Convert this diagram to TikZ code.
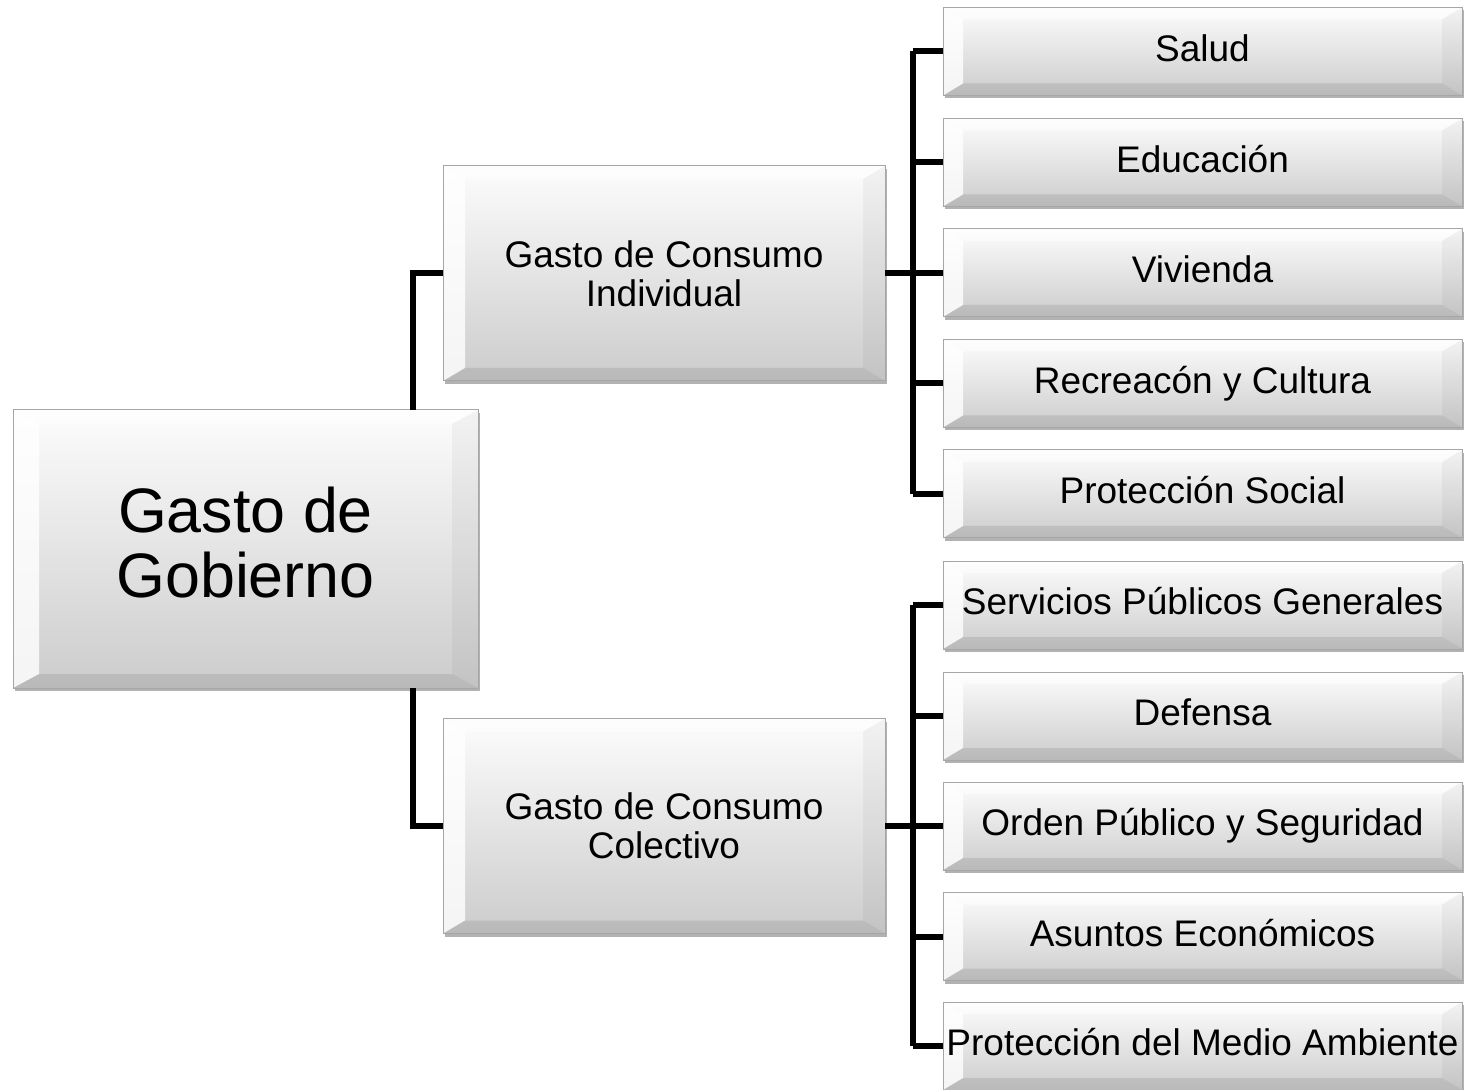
\documentclass[tikz,border=0pt]{standalone}
\usepackage{fontspec}
\setmainfont{Liberation Sans}
\usetikzlibrary{calc,shadows}
\def\bevelfaces#1#2{%
  \path (path picture bounding box.north west) coordinate (bnw)
        (path picture bounding box.south east) coordinate (bse)
        (bnw -| bse) coordinate (bne) (bnw |- bse) coordinate (bsw);
  \fill[white,opacity=0.55] (bnw) -- (bne) -- ([shift={(-#1,-#2)}]bne) -- ([shift={(#1,-#2)}]bnw) -- cycle;
  \fill[white,opacity=0.8] (bnw) -- (bsw) -- ([shift={(#1,#2)}]bsw) -- ([shift={(#1,-#2)}]bnw) -- cycle;
  \fill[black,opacity=0.04] (bne) -- (bse) -- ([shift={(-#1,#2)}]bse) -- ([shift={(-#1,-#2)}]bne) -- cycle;
  \fill[black,opacity=0.09] (bsw) -- (bse) -- ([shift={(-#1,#2)}]bse) -- ([shift={(#1,#2)}]bsw) -- cycle;}
\tikzset{
  bevelbox/.style 2 args={draw=black!35, line width=0.5pt, inner sep=0pt, outer sep=0pt,
    top color=black!1, bottom color=black!20, align=center,
    drop shadow={shadow xshift=1pt, shadow yshift=-1.5pt, opacity=0.3, fill=black},
    path picture={\bevelfaces{#1}{#2}}},
  leafbox/.style={bevelbox={10pt}{6pt}, minimum width=259.5pt, minimum height=44pt,
    font=\fontsize{18.5}{19.5}\selectfont},
  midbox/.style={bevelbox={11pt}{6.5pt}, minimum width=221pt, minimum height=107.5pt,
    font=\fontsize{18.5}{19.5}\selectfont},
  link/.style={line width=3pt, black}
}

\begin{document}
\begin{tikzpicture}[x=0.5pt, y=0.5pt]
		%%%%% START %%%%%
		\useasboundingbox (0, 0) rectangle (1468, 1089);
		
		\node[bevelbox={13pt}{7pt}, minimum width=232.5pt, minimum height=139pt,
		  font=\fontsize{31.4}{32.5}\selectfont] (gobierno) at (245.5, 540) {Gasto de\\Gobierno\vphantom{g}};
		
		\node[midbox] (individual) at (664, 815.5) {Gasto de Consumo\\Individual};
		\node[midbox] (colectivo) at (664, 263) {Gasto de Consumo\\Colectivo};
		
		\node[leafbox] (salud) at (1202.5, 1037.5) {Salud\vphantom{g}};
		\node[leafbox] (educacion) at (1202.5, 926.5) {Educación\vphantom{g}};
		\node[leafbox] (vivienda) at (1202.5, 816) {Vivienda\vphantom{g}};
		\node[leafbox] (recreacion) at (1202.5, 705.5) {Recreacón y Cultura};
		\node[leafbox] (proteccion) at (1202.5, 595) {Protección Social\vphantom{g}};
		
		\node[leafbox] (servicios) at (1202.5, 484) {Servicios Públicos Generales\vphantom{g}};
		\node[leafbox] (defensa) at (1202.5, 373) {Defensa\vphantom{g}};
		\node[leafbox] (orden) at (1202.5, 263) {Orden Público y Seguridad};
		\node[leafbox] (asuntos) at (1202.5, 152.5) {Asuntos Económicos\vphantom{g}};
		\node[leafbox] (ambiente) at (1202.5, 43) {Protección del Medio Ambiente\vphantom{g}};
		
		\coordinate (gbus) at (413, 0);
		\coordinate (bus) at (913, 0);
		
		\draw[link] (individual.west) -| (gbus |- gobierno.north);
		\draw[link] (colectivo.west) -| (gbus |- gobierno.south);
		
		\draw[link] (individual.east) -- (bus |- individual.east);
		\draw[link] (bus |- salud.west) -- (bus |- proteccion.west);
		\draw[link] (bus |- salud.west) -- (salud.west);
		\draw[link] (bus |- educacion.west) -- (educacion.west);
		\draw[link] (bus |- vivienda.west) -- (vivienda.west);
		\draw[link] (bus |- recreacion.west) -- (recreacion.west);
		\draw[link] (bus |- proteccion.west) -- (proteccion.west);
		
		\draw[link] (colectivo.east) -- (bus |- colectivo.east);
		\draw[link] (bus |- servicios.west) -- (bus |- ambiente.west);
		\draw[link] (bus |- servicios.west) -- (servicios.west);
		\draw[link] (bus |- defensa.west) -- (defensa.west);
		\draw[link] (bus |- orden.west) -- (orden.west);
		\draw[link] (bus |- asuntos.west) -- (asuntos.west);
		\draw[link] (bus |- ambiente.west) -- (ambiente.west);
		
		%%%%% END %%%%%
\end{tikzpicture}
\end{document}
